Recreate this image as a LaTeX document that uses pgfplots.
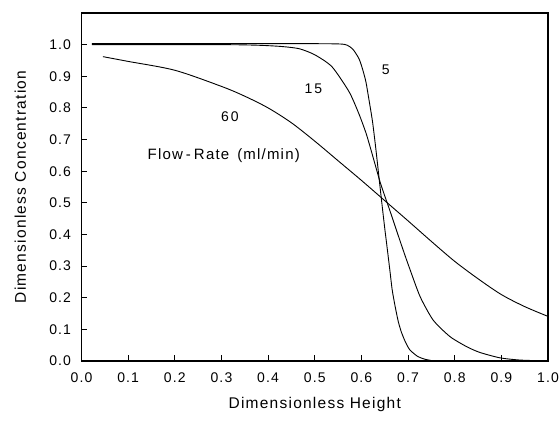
\documentclass[border=0pt]{standalone}
\usepackage{fontspec}
\setmainfont{Liberation Sans}[LetterSpace=8]
\usepackage{pgfplots}
\pgfplotsset{compat=1.18}
\begin{document}
\begin{tikzpicture}
\useasboundingbox (-81.5pt,-60pt) rectangle (478.5pt,361pt);
\begin{axis}[
  at={(0pt,0pt)}, anchor=south west,
  scale only axis, width=466.5pt, height=348pt,
  xmin=0, xmax=1, ymin=0, ymax=1.1,
  xtick={0,0.1,0.2,0.3,0.4,0.5,0.6,0.7,0.8,0.9,1.0},
  ytick={0,0.1,0.2,0.3,0.4,0.5,0.6,0.7,0.8,0.9,1.0},
  xtick pos=bottom, ytick pos=left,
  tick align=inside, major tick length=6pt,
  axis line style={line width=1.2pt},
  every tick/.style={line width=1pt, black},
  /pgf/number format/assume math mode=true,
  /pgf/number format/.cd, fixed, fixed zerofill, precision=1, /pgfplots/.cd,
  ticklabel style={font=\fontsize{14}{16}\selectfont},
  xticklabel style={yshift=-8pt},
  yticklabel style={xshift=-7pt},
  xlabel={Dimensionless Height},
  ylabel={Dimensionless Concentration},
  label style={font=\fontsize{15.5}{18}\selectfont},
  xlabel style={at={(axis description cs:0.5,-0.124)}, anchor=center},
  ylabel style={at={(axis description cs:-0.131,0.5)}, anchor=center},
  clip=true,
]
% 5 ml/min
\addplot[black, line width=0.9pt, smooth, tension=0.4] coordinates {
(0.022,1.003) (0.3,1.003) (0.5,1.003) (0.555,1.002) (0.57,0.998) (0.582,0.985) (0.595,0.955) (0.603,0.92) (0.61,0.88) (0.618,0.81) (0.624,0.755) (0.631,0.67) (0.637,0.59) (0.643,0.51) (0.65,0.42) (0.655,0.36) (0.661,0.287) (0.666,0.225) (0.672,0.175) (0.679,0.125) (0.686,0.09) (0.695,0.058) (0.704,0.035) (0.72,0.015) (0.735,0.006) (0.755,0.0)
};
% 15 ml/min
\addplot[black, line width=0.9pt, smooth, tension=0.4] coordinates {
(0.022,1.0) (0.3,1.0) (0.38,0.998) (0.43,0.994) (0.467,0.987) (0.5,0.968) (0.537,0.93) (0.574,0.85) (0.595,0.78) (0.61,0.72) (0.62,0.67) (0.63,0.618) (0.64,0.566) (0.65,0.522) (0.66,0.48) (0.67,0.436) (0.68,0.392) (0.692,0.34) (0.704,0.29) (0.726,0.203) (0.754,0.129) (0.79,0.077) (0.826,0.045) (0.854,0.027) (0.897,0.01) (0.94,0.003) (1.0,0.0)
};
% 60 ml/min
\addplot[black, line width=0.9pt, smooth, tension=0.5] coordinates {
(0.046,0.962) (0.1,0.947) (0.2,0.919) (0.3,0.868) (0.35,0.837) (0.4,0.8) (0.45,0.753) (0.5,0.695) (0.55,0.633) (0.6,0.571) (0.65,0.507) (0.7,0.443) (0.75,0.378) (0.8,0.315) (0.85,0.26) (0.9,0.21) (0.95,0.172) (1.0,0.141)
};
\node[font=\fontsize{14}{16}\selectfont] at (axis cs:0.652,0.92) {5};
\node[font=\fontsize{14}{16}\selectfont] at (axis cs:0.497,0.862) {1\hspace{2pt}5};
\node[font=\fontsize{14}{16}\selectfont] at (axis cs:0.318,0.773) {6\hspace{2pt}0};
\node[font=\fontsize{15}{17}\selectfont] at (axis cs:0.305,0.649) {Flow\hspace{3pt}-\hspace{3pt}Rate\hspace{8pt}(ml/min)};
\end{axis}
\end{tikzpicture}
\end{document}
